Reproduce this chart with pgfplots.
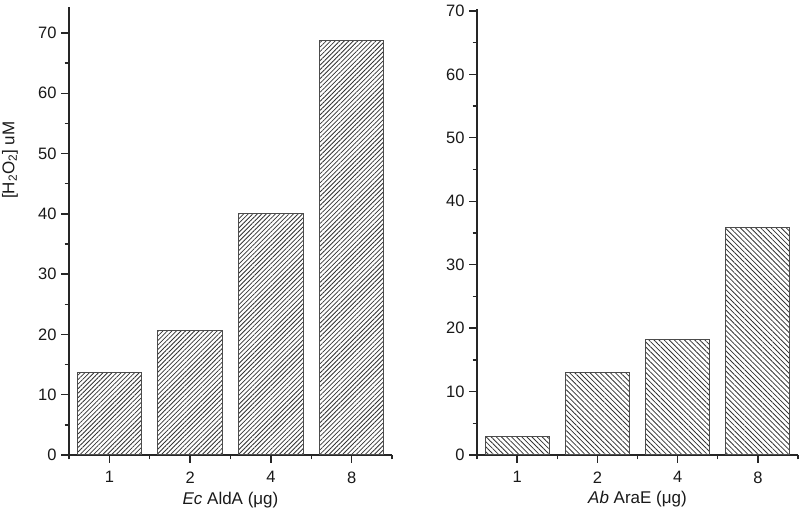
\documentclass[border=0pt]{standalone}
\usepackage{fontspec}
\setmainfont{Liberation Sans}
\usepackage{pgfplots}
\pgfplotsset{compat=1.18}
\usetikzlibrary{patterns.meta}
\begin{document}
\begin{tikzpicture}
\useasboundingbox (0pt,0pt) rectangle (799pt,521pt);
\pgfplotsset{
  myaxis/.style={
    scale only axis,
    axis lines*=left,
    axis line style={line width=1.6pt, black!85},
    every tick/.style={line width=1.4pt, black!85},
    tick align=outside,
    major tick length=8pt,
    minor tick length=4.5pt,
    ybar,
    bar width=0.8,
    xmin=-0.5, xmax=3.5, ymin=0,
    enlarge x limits=false, enlarge y limits=false,
    xtick={0,1,2,3}, xticklabels={1,2,4,8},
    minor xtick={-0.5,0.5,1.5,2.5,3.5},
    ytick={0,10,...,70},
    minor ytick={5,15,...,65},
    /pgf/number format/assume math mode=true,
    tick label style={font=\fontsize{16.5}{19}\selectfont, text=black!90},
    label style={font=\fontsize{17}{20}\selectfont, text=black!90},
    xticklabel style={yshift=-5pt},
    yticklabel style={xshift=-1pt},
    xlabel style={at={(axis description cs:0.5,-0.1)}, anchor=center},
  }
}
\begin{axis}[myaxis, at={(69pt,66pt)}, anchor=south west, width=323pt, height=448pt, ymax=74.3,
  ylabel={[H\textsubscript{2}O\textsubscript{2}] uM},
  ylabel style={at={(axis description cs:-0.183,0.658)}, anchor=center},
  xlabel={\textit{Ec} AldA (μg)}]
\addplot[draw=black!70, line width=1pt, pattern={Lines[angle=45,distance=3.2pt,line width=0.8pt]}, pattern color=black!80]
  coordinates {(0,13.6) (1,20.7) (2,40.0) (3,68.8)};
\end{axis}
\begin{axis}[myaxis, at={(477pt,66pt)}, anchor=south west, width=321pt, height=446pt, ymax=70.3,
  xlabel={\textit{Ab} AraE (μg)}]
\addplot[draw=black!70, line width=1pt, pattern={Lines[angle=-45,distance=3.6pt,line width=0.8pt]}, pattern color=black!80]
  coordinates {(0,2.86) (1,13.0) (2,18.2) (3,35.8)};
\end{axis}
\end{tikzpicture}
\end{document}
